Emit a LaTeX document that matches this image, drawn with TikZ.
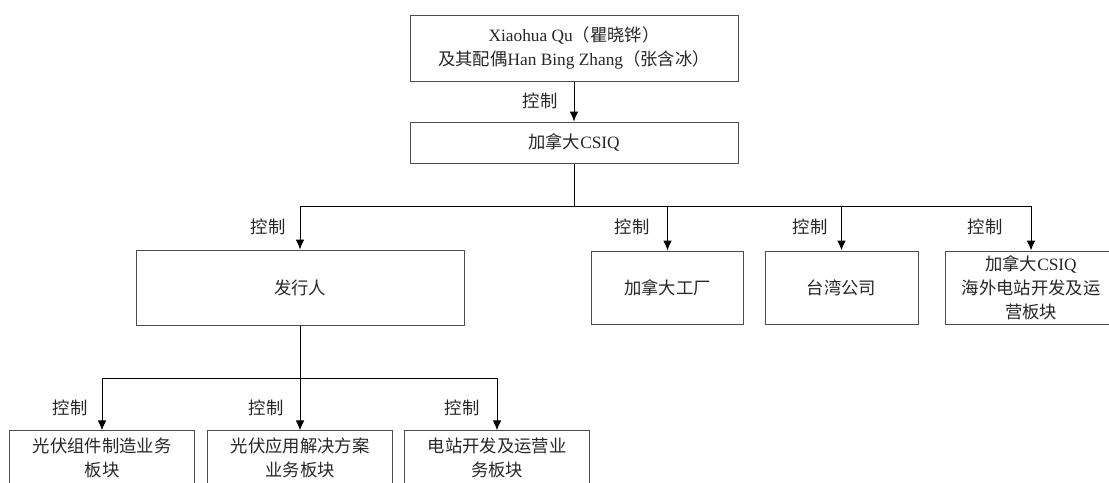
\documentclass[tikz,border=0pt]{standalone}
\usepackage{fontspec}
\setmainfont{Noto Sans CJK SC}
\newfontfamily\enfont{Liberation Serif}
\newcommand{\en}[1]{{\enfont #1}}
\usetikzlibrary{arrows.meta}

\tikzset{
    box/.style = {draw=black!70, line width=0.75pt, align=center, inner sep=0pt, text=black!85},
    ctrl/.style = {->, >={Latex[length=7.5pt,width=6.5pt]}, line width=0.75pt},
    lbl/.style = {text=black!85, inner sep=0pt}
}

\begin{document}
\begin{tikzpicture}[x=0.75pt, y=-0.75pt, font=\fontsize{13}{18}\selectfont]

    \useasboundingbox (0,0) rectangle (1109,482);
    \clip (0,0) rectangle (1109,482);

    % top levels
    \node[box, minimum width=246pt, minimum height=49.5pt] (owner) at (574,48)
    {\en{Xiaohua Qu}（瞿晓铧）\\及其配偶\en{Han Bing Zhang}（张含冰）};

    \node[box, minimum width=246pt, minimum height=30.75pt] (csiq) at (574,142.5)
    {加拿大\en{CSIQ}};

    % second level
    \node[box, minimum width=246pt, minimum height=56.25pt] (issuer) at (300,287.5)
    {发行人};
    \node[box, minimum width=114pt, minimum height=54.75pt] (factory) at (667.5,287.5)
    {加拿大工厂};
    \node[box, minimum width=114.75pt, minimum height=54.75pt] (taiwan) at (841.5,287.5)
    {台湾公司};
    \node[box, minimum width=129pt, minimum height=54.75pt] (overseas) at (1031,287.5)
    {加拿大\en{CSIQ}\\海外电站开发及运\\营板块};

    % third level
    \node[box, minimum width=138.75pt, minimum height=40pt] (unit1) at (102,457.5)
    {光伏组件制造业务\\板块};
    \node[box, minimum width=138.75pt, minimum height=40pt] (unit2) at (300,457.5)
    {光伏应用解决方案\\业务板块};
    \node[box, minimum width=138.75pt, minimum height=40pt] (unit3) at (497,457.5)
    {电站开发及运营业\\务板块};

    \coordinate (bus1) at (574,206);
    \coordinate (bus2) at (300,378);

    \draw[ctrl] (owner) -- (csiq);

    \draw[line width=0.75pt] (csiq.south) -- (bus1);
    \draw[line width=0.75pt] (issuer.north |- bus1) -- (overseas.north |- bus1);
    \foreach \n in {issuer, factory, taiwan, overseas}
        \draw[ctrl] (\n.north |- bus1) -- (\n.north);

    \draw[line width=0.75pt] (unit1.north |- bus2) -- (unit3.north |- bus2);
    \draw[ctrl] (issuer) -- (unit2);
    \draw[ctrl] (unit1.north |- bus2) -- (unit1.north);
    \draw[ctrl] (unit3.north |- bus2) -- (unit3.north);

    % labels
    \node[lbl] (c0) at (540,101) {控制};
    \node[lbl] (c1) at (268,227) {控制};
    \node[lbl] (c2) at (632,227) {控制};
    \node[lbl] (c3) at (810,227) {控制};
    \node[lbl] (c4) at (985,227) {控制};
    \node[lbl] (c5) at (70,408) {控制};
    \node[lbl] (c6) at (266,408) {控制};
    \node[lbl] (c7) at (462,408) {控制};

\end{tikzpicture}
\end{document}
